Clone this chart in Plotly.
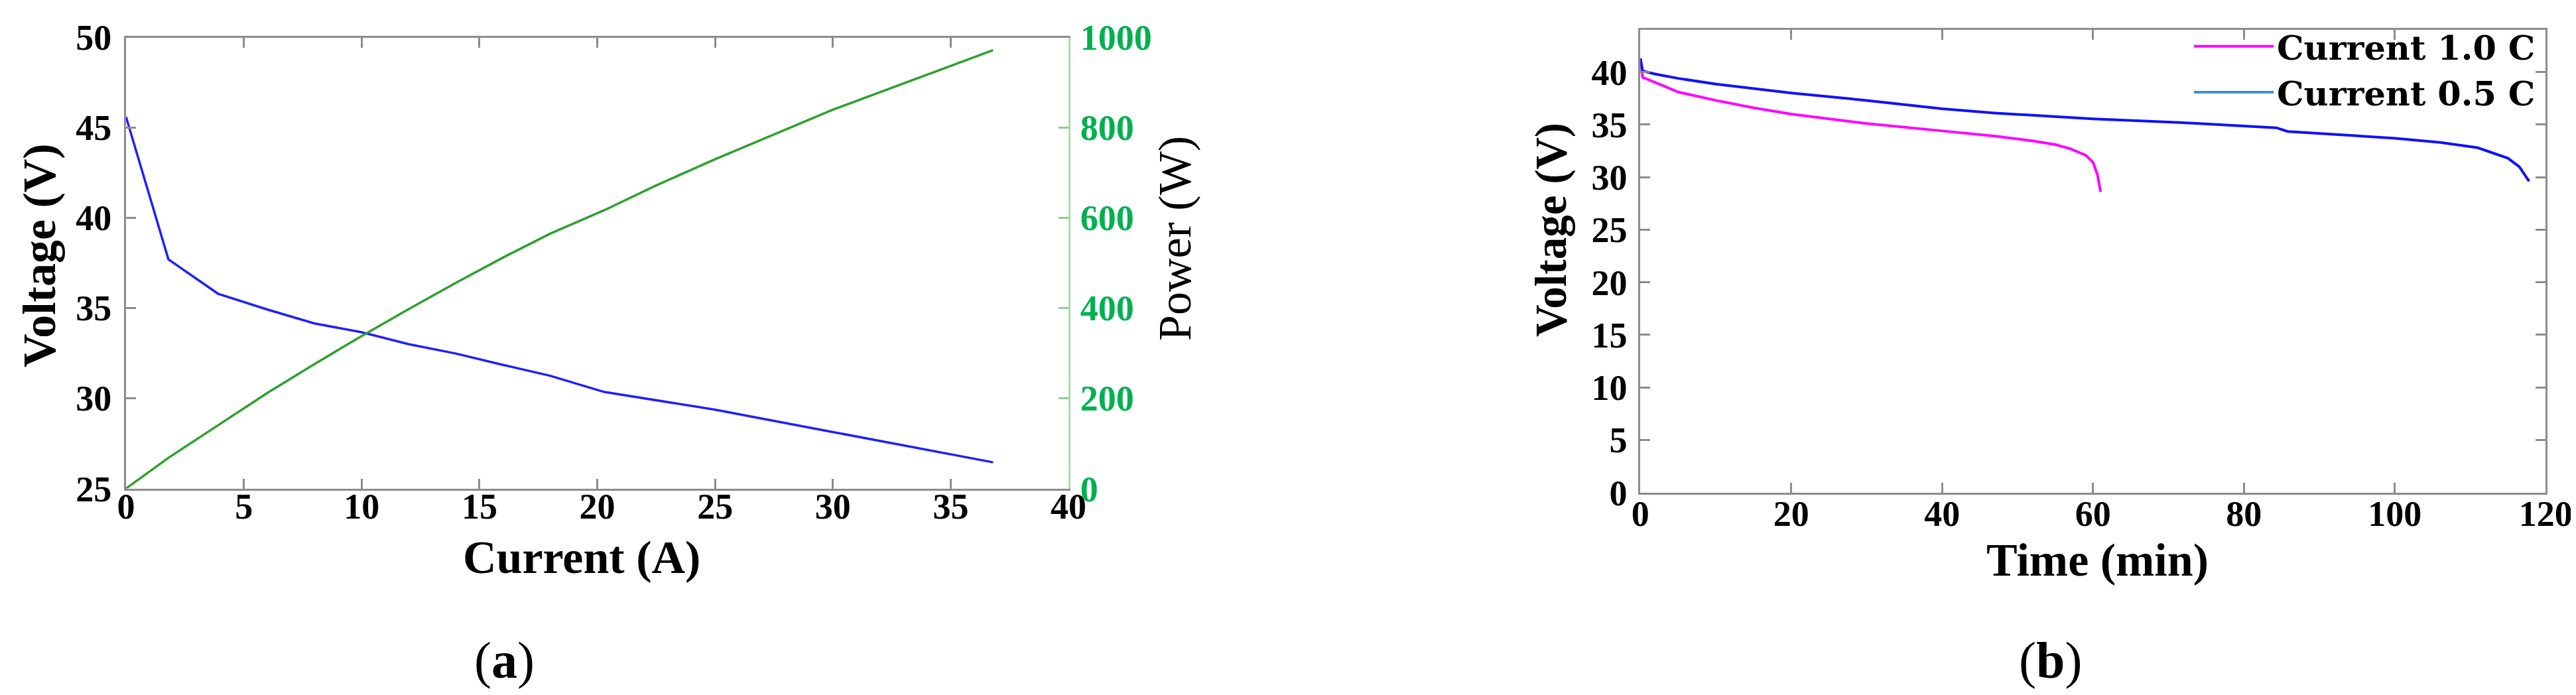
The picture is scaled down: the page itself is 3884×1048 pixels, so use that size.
import plotly.graph_objects as go

# ---- panel (a): voltage / power vs current ----
current_a = [0, 1.8, 3.9, 6, 8, 10, 12, 14, 16, 18, 20.3, 22.5, 25, 30, 36.8]
voltage_a = [45.6, 37.7, 35.8, 34.92, 34.15, 33.66, 33.0, 32.48, 31.85, 31.25,
             30.35, 29.88, 29.37, 28.13, 26.45]
power_a = [0, 68, 140, 212, 276, 338, 398, 456, 512, 565, 617, 672, 730, 840, 972]

# ---- panel (b): discharge curves ----
time_1c = [0, 0.3, 3, 5, 10, 15, 20, 30, 40, 47, 52, 55, 57, 59, 60, 60.6, 61]
volt_1c = [41.3, 39.5, 38.7, 38.1, 37.3, 36.6, 36.0, 35.1, 34.4, 33.9, 33.45,
           33.1, 32.7, 32.1, 31.4, 30.2, 28.6]
time_05c = [0, 0.3, 2, 5, 10, 20, 30, 40, 47, 60, 71.5, 80, 84.3, 85.8, 91,
            100, 106, 111, 115, 116.5, 117.8]
volt_05c = [41.3, 40.1, 39.8, 39.4, 38.85, 38.0, 37.3, 36.5, 36.1, 35.55, 35.2,
            34.9, 34.7, 34.35, 34.1, 33.7, 33.3, 32.8, 31.8, 31.0, 29.6]

W, H = 3884, 1048
SERIF = "Liberation Serif, Times New Roman, serif"
GREEN_TXT = "#00b050"
FRAME = "#8c8c8c"


def px(x):
    return x / W


def py(y):
    return 1 - y / H


tick_font = dict(family=SERIF, size=54, color="black", weight="bold")

fig = go.Figure()
fig.add_trace(go.Scatter(x=current_a, y=voltage_a, mode="lines", xaxis="x", yaxis="y",
                         line=dict(color="#1f1fff", width=3.5), showlegend=False))
fig.add_trace(go.Scatter(x=current_a, y=power_a, mode="lines", xaxis="x", yaxis="y2",
                         line=dict(color="#2ea02e", width=3.5), showlegend=False))
fig.add_trace(go.Scatter(x=time_1c, y=volt_1c, mode="lines", xaxis="x3", yaxis="y3",
                         name="Current 1.0 C", line=dict(color="#ff00ff", width=4)))
fig.add_trace(go.Scatter(x=time_05c, y=volt_05c, mode="lines", xaxis="x3", yaxis="y3",
                         line=dict(color="#1010ff", width=4), showlegend=False))
# legend key for the 0.5 C curve is drawn in a lighter blue in the original
fig.add_trace(go.Scatter(x=[None], y=[None], mode="lines", xaxis="x3", yaxis="y3",
                         name="Current 0.5 C", line=dict(color="#3d8fd1", width=4)))

common = dict(showgrid=False, zeroline=False, showline=True, linecolor=FRAME, linewidth=3,
              ticks="inside", ticklen=15, tickwidth=2.5, tickcolor=FRAME, tickfont=tick_font)

fig.update_layout(
    width=W, height=H,
    template="none",
    paper_bgcolor="white", plot_bgcolor="white",
    margin=dict(l=0, r=0, t=0, b=0),
    xaxis=dict(domain=[px(182), px(1603)], anchor="y", range=[0, 40], dtick=5,
               mirror="ticks", ticklabelstandoff=-22, **common),
    yaxis=dict(domain=[py(728.6), py(48.5)], anchor="x", range=[25, 50], dtick=5,
               ticklabelstandoff=8, **common),
    yaxis2=dict(overlaying="y", side="right", anchor="x", range=[0, 1000], dtick=200,
                showgrid=False, zeroline=False, showline=True, linecolor="#a9dca9",
                linewidth=3, ticks="inside", ticklen=15, tickwidth=2.5, tickcolor="#8fcf8f",
                tickfont=dict(family=SERIF, size=54, color=GREEN_TXT, weight="bold"),
                ticklabelstandoff=4),
    xaxis3=dict(domain=[px(2465.3), px(3830.3)], anchor="y3", range=[0, 120], dtick=20,
                mirror="ticks", ticklabelstandoff=-18, **common),
    yaxis3=dict(domain=[py(734.7), py(37.2)], anchor="x3", range=[0, 44],
                tickvals=[0, 5, 10, 15, 20, 25, 30, 35, 40], mirror="ticks",
                ticklabelstandoff=6, **common),
    legend=dict(x=px(3820), xanchor="right", y=py(22), yanchor="top",
                bgcolor="rgba(0,0,0,0)", borderwidth=0, tracegroupgap=0, itemwidth=120,
                font=dict(family="DejaVu Serif", size=51, color="black", weight="bold")),
)

title_font = dict(family=SERIF, size=70, color="black", weight="bold")
annos = [
    dict(text="Voltage (V)", x=px(51), y=py(377), textangle=-90, font=title_font),
    dict(text="Current (A)", x=px(869), y=py(832), font=title_font),
    dict(text="Power (W)", x=px(1763), y=py(352), textangle=-90,
         font=dict(family=SERIF, size=70, color="black")),
    dict(text="Voltage (V)", x=px(2330), y=py(339), textangle=-90,
         font=dict(family=SERIF, size=67, color="black", weight="bold")),
    dict(text="Time (min)", x=px(3154), y=py(836), font=title_font),
    dict(text="(<b>a</b>)", x=px(752), y=py(987), font=dict(family=SERIF, size=78, color="black")),
    dict(text="(<b>b</b>)", x=px(3083), y=py(987), font=dict(family=SERIF, size=78, color="black")),
]
for a in annos:
    fig.add_annotation(xref="paper", yref="paper", xanchor="center", yanchor="middle",
                       showarrow=False, **a)

fig.write_html("out.html")
